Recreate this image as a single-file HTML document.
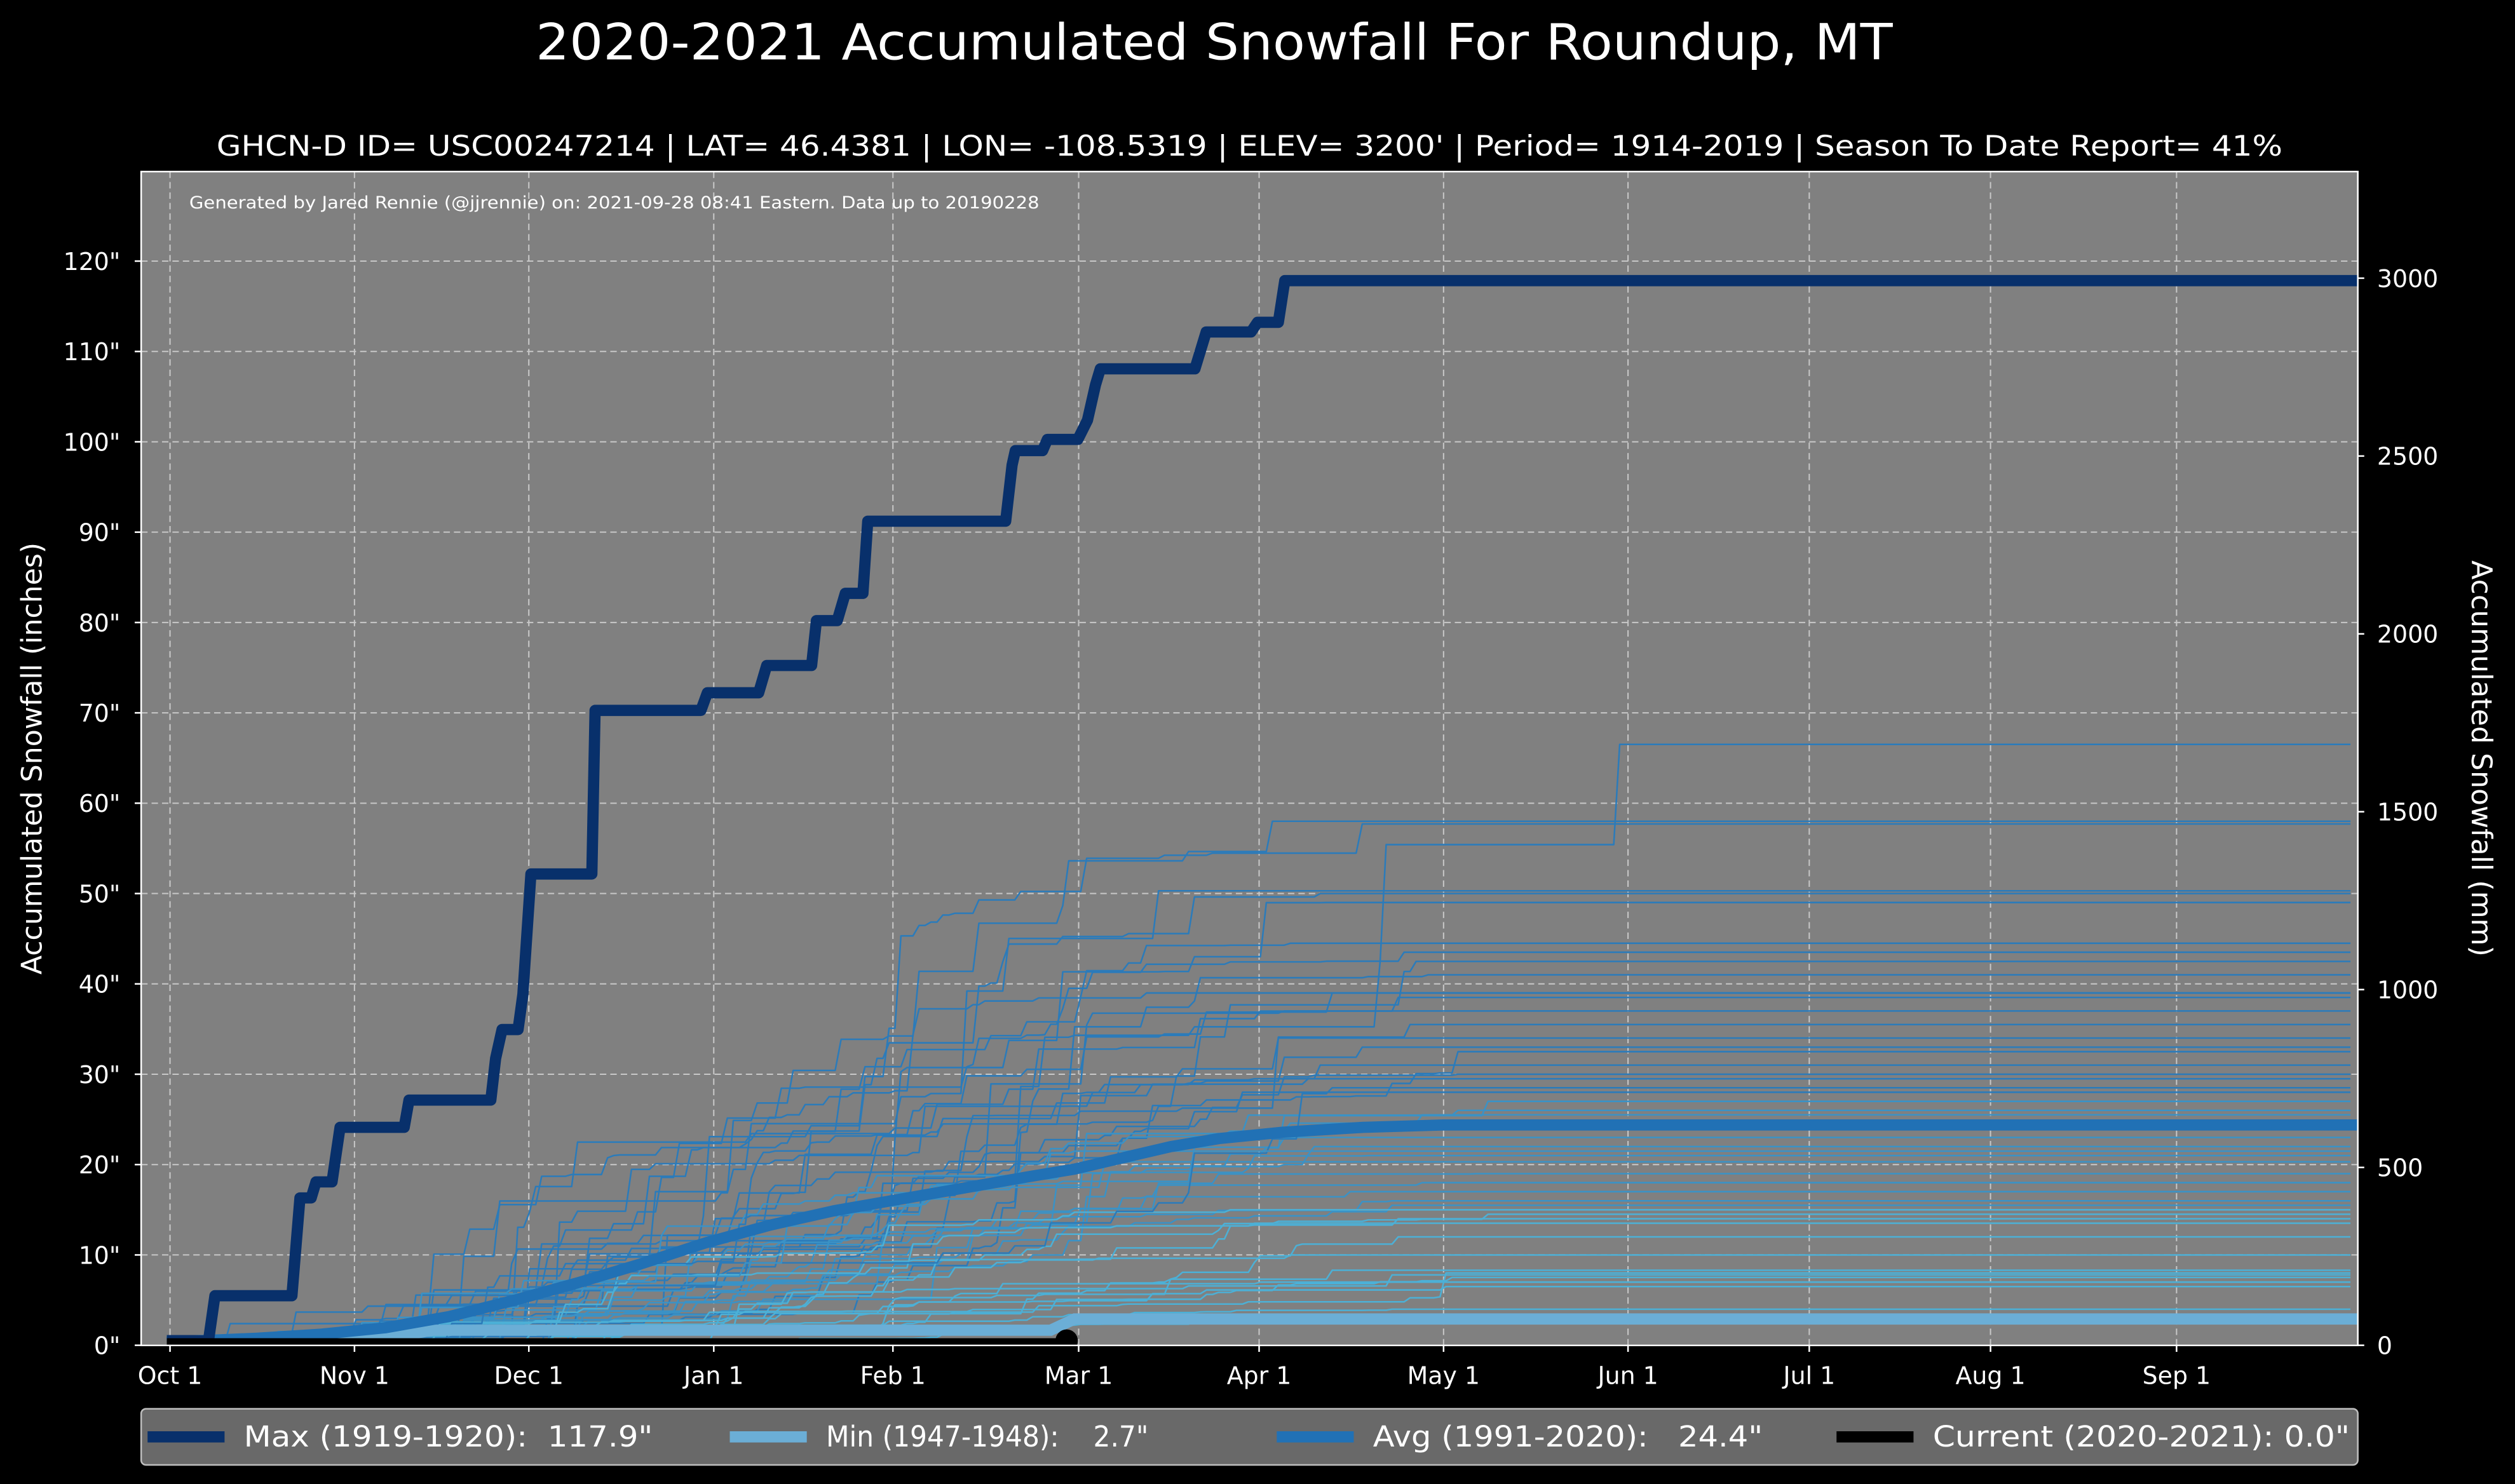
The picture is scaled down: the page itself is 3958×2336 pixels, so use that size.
<!DOCTYPE html>
<html><head><meta charset="utf-8"><style>
html,body{margin:0;padding:0;background:#000;}
svg{display:block;}
text{font-family:"DejaVu Sans","Liberation Sans",sans-serif;fill:#fff;}
</style></head><body>
<svg id="s" width="3958" height="2336" viewBox="0 0 1568 925.4" preserveAspectRatio="none" xmlns="http://www.w3.org/2000/svg">
<rect x="0" y="0" width="1568" height="925.4" fill="#000"/>
<text x="757" y="37" font-size="31" text-anchor="middle" textLength="846" lengthAdjust="spacingAndGlyphs">2020-2021 Accumulated Snowfall For Roundup, MT</text>
<text x="779" y="97" font-size="17.5" text-anchor="middle" textLength="1288" lengthAdjust="spacingAndGlyphs">GHCN-D ID= USC00247214 | LAT= 46.4381 | LON= -108.5319 | ELEV= 3200' | Period= 1914-2019 | Season To Date Report= 41%</text>
<rect x="88" y="107" width="1382" height="732" fill="#808080"/>
<g id="grid" stroke="#c8c8c8" stroke-width="0.8" stroke-dasharray="4,2.5" fill="none"></g>
<text x="118" y="130" font-size="10.5" textLength="530" lengthAdjust="spacingAndGlyphs">Generated by Jared Rennie (@jjrennie) on: 2021-09-28 08:41 Eastern. Data up to 20190228</text>
<g id="thin" fill="none" stroke-width="1" stroke-linejoin="round"></g>
<polyline fill="none" stroke="#6baed6" stroke-width="7" points="104,836.5 255,832 270,829.5 655,829.5 670,822.5 1470,822.5"/>
<polyline fill="none" stroke="#2171b5" stroke-width="7" stroke-linejoin="round" points="104,837 160,834.5 200,832 240,828 280,821 320,811 360,800 400,788 440,775 480,764 520,755 560,748 600,741 640,734 670,729 700,722 730,715 760,710 800,706 850,703 900,701.5 1470,701.5"/>
<polyline fill="none" stroke="#08306b" stroke-width="7" stroke-linejoin="round" points="104,836 130,836 134,808 182,808 187,747 194,747 197,737 207,737 212,703 252,703 255,686 306,686 309,660 313,642 323,642 326,620 331,545 369,545 371,443 437,443 441,432 473,432 478,415 506,415 509,387 522,387 527,370 538,370 541,325 627,325 631,290 633,281 650,281 653,274 672,274 678,262 683,240 686,230 745,230 752,207 780,207 784,201 797,201 801,175 1470,175"/>
<line x1="104" y1="837.5" x2="665" y2="837.5" stroke="#000" stroke-width="6"/>
<circle cx="665" cy="836" r="7" fill="#000"/>
<rect x="88" y="107" width="1382" height="732" fill="none" stroke="#fff" stroke-width="1"/>
<rect x="-10" y="839.5" width="1590" height="40" fill="#000"/>
<g id="ticks"></g>
<text transform="translate(26,473) rotate(-90)" font-size="17.5" text-anchor="middle">Accumulated Snowfall (inches)</text>
<text transform="translate(1541,473) rotate(90)" font-size="17.5" text-anchor="middle">Accumulated Snowfall (mm)</text>
<rect x="88" y="878.5" width="1382" height="35" rx="3" fill="#696969" stroke="#bfbfbf" stroke-width="1"/>
<line x1="92" y1="896" x2="140" y2="896" stroke="#08306b" stroke-width="7"/>
<text x="152" y="902" font-size="18" xml:space="preserve" textLength="255" lengthAdjust="spacingAndGlyphs">Max (1919-1920):  117.9"</text>
<line x1="455" y1="896" x2="503" y2="896" stroke="#6baed6" stroke-width="7"/>
<text x="515" y="902" font-size="18" xml:space="preserve" textLength="201" lengthAdjust="spacingAndGlyphs">Min (1947-1948):    2.7"</text>
<line x1="796" y1="896" x2="844" y2="896" stroke="#2171b5" stroke-width="7"/>
<text x="856" y="902" font-size="18" xml:space="preserve" textLength="243" lengthAdjust="spacingAndGlyphs">Avg (1991-2020):   24.4"</text>
<line x1="1145" y1="896" x2="1193" y2="896" stroke="#000" stroke-width="7"/>
<text x="1205" y="902" font-size="18" xml:space="preserve" textLength="260" lengthAdjust="spacingAndGlyphs">Current (2020-2021): 0.0"</text>
</svg>
<script>
(function(){
var NS="http://www.w3.org/2000/svg";
function X(d){return 106.2+d*3.734;}
function Y(v){return 838.9-5.634*v;}
function el(p,t,a,txt){var e=document.createElementNS(NS,t);for(var k in a)e.setAttribute(k,a[k]);if(txt!=null)e.textContent=txt;p.appendChild(e);return e;}
var grid=document.getElementById('grid'),ticks=document.getElementById('ticks'),thin=document.getElementById('thin');
var mx=[106,221,329.7,445,556.7,672.5,785,900,1015,1128,1241,1357];
var names=["Oct 1","Nov 1","Dec 1","Jan 1","Feb 1","Mar 1","Apr 1","May 1","Jun 1","Jul 1","Aug 1","Sep 1"];
mx.forEach(function(x,i){el(grid,'line',{x1:x,y1:107,x2:x,y2:839});
 el(ticks,'line',{x1:x,y1:839,x2:x,y2:843,stroke:'#fff','stroke-width':1});
 el(ticks,'text',{x:x,y:863,'font-size':15,'text-anchor':'middle'},names[i]);});
for(var v=0;v<=120;v+=10){var y=Y(v);if(v>0)el(grid,'line',{x1:88,y1:y,x2:1470,y2:y});
 el(ticks,'line',{x1:84,y1:y,x2:88,y2:y,stroke:'#fff','stroke-width':1});
 el(ticks,'text',{x:75,y:y+5.5,'font-size':15,'text-anchor':'end'},v+'"');}
for(var m=0;m<=3000;m+=500){var y=Y(m/25.4);
 el(ticks,'line',{x1:1470,y1:y,x2:1474,y2:y,stroke:'#fff','stroke-width':1});
 el(ticks,'text',{x:1482,y:y+5.5,'font-size':15},String(m));}
var seed=12345;function r(){seed=(seed*16807)%2147483647;return (seed-1)/2147483646;}
var finals=[66.5,58,57.7,50.3,50,49,44.5,43.5,42.5,41,39,38.5,37,35.5,34,33,32.5,31,30,29.5,28,27,26,25.5,23,22,21,20.3,19,18,17,16,15.5,15,14.5,14,13.5,12,10,8.3,8,7.8,7.5,7,6.5,4,3,39,28.5,21.5];
finals.forEach(function(F,idx){
 var N=12+Math.floor(r()*22),ev=[],tot=0;
 for(var i=0;i<N;i++){var d=Math.floor(3+((r()+r())/2)*225);var s=-Math.log(r()+1e-6);ev.push([d,s]);tot+=s;}
 if(F==66.5){ev.push([242,tot*0.2]);tot*=1.2;}
 var daily=new Array(366).fill(0);ev.forEach(function(e){daily[e[0]]+=e[1]/tot*F;});
 var c=0,pts=[];
 for(var d=0;d<=364;d++){c+=daily[d];pts.push(X(d).toFixed(1)+','+Y(c).toFixed(1));}
 var t=Math.min(1,F/60);
 var col=t>0.45?'#2b7bba':(t>0.25?'#3a92c6':'#4cb0d6');
 el(thin,'polyline',{points:pts.join(' '),stroke:col});
});
})();
</script>
</body></html>
